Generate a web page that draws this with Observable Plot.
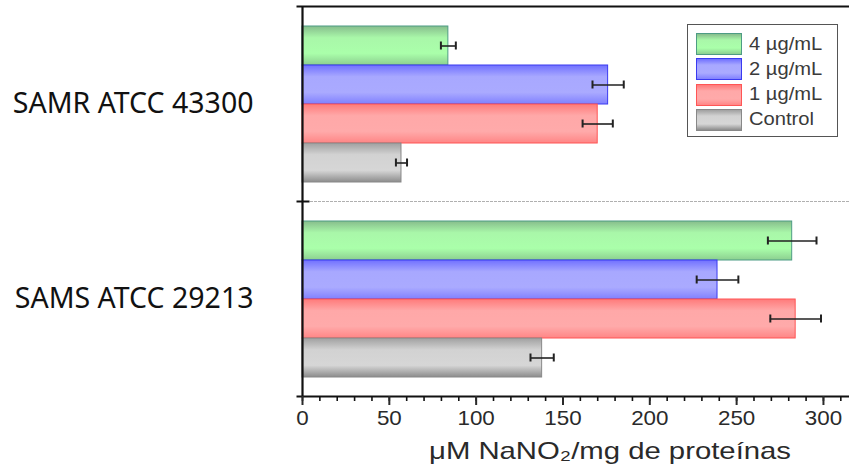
<!DOCTYPE html>
<html><head><meta charset="utf-8">
<script src="https://cdn.jsdelivr.net/npm/d3@7"></script>
<script src="https://cdn.jsdelivr.net/npm/@observablehq/plot@0.6"></script>
<style>
body{margin:0;background:#fff;}
#wrap{position:relative;width:849px;height:475px;overflow:hidden;}
.legend{position:absolute;left:687px;top:24px;width:151px;height:113px;border:1px solid #555;box-sizing:border-box;background:#fff;font-family:"Liberation Sans",Arial,sans-serif;}
.row{position:absolute;left:8px;height:22px;display:flex;align-items:center;}
.sw{width:46px;height:22px;box-sizing:border-box;margin-right:7px;}
.lt{font-size:18px;color:#3a3a3a;white-space:nowrap;display:inline-block;transform:scaleX(1.12);transform-origin:left center;}
</style></head><body><div id="wrap"></div>
<script>
const groups = ["SAMR ATCC 43300", "SAMS ATCC 29213"];
const series = ["4 µg/mL", "2 µg/mL", "1 µg/mL", "Control"];
const samrValues = [84, 176, 170, 57];
const samrErrors = [4.3, 9, 8.7, 3.2];
const samsValues = [282, 239, 284, 138];
const samsErrors = [14, 12, 14.6, 6.7];
const majorTicks = [0, 50, 100, 150, 200, 250, 300];
const minorTicks = [0, 10, 20, 30, 40, 50, 60, 70, 80, 90, 100, 110, 120, 130, 140, 150, 160, 170, 180, 190, 200, 210, 220, 230, 240, 250, 260, 270, 280, 290, 300, 310];
const xLabel = "μM NaNO₂/mg de proteínas";

const gradStops = [
  [["0","#86bd8c"],["0.3","#a9f7a9"],["0.7","#aaffaa"],["1","#8ccf90"]],
  [["0","#7070ff"],["0.3","#a8a8ff"],["0.7","#aaaaff"],["1","#8080ff"]],
  [["0","#ff7a7a"],["0.3","#ffa8a8"],["0.7","#ffaaaa"],["1","#ff8585"]],
  [["0","#a0a0a0"],["0.3","#d2d2d2"],["0.7","#d6d6d6"],["1","#8c8c8c"]]
];
const strokes = ["#4d9c84", "#3a3af0", "#ff5555", "#888888"];

const table = [];
series.forEach((s, i) => {
  table.push({group: groups[0], series: s, value: samrValues[i], err: samrErrors[i]});
  table.push({group: groups[1], series: s, value: samsValues[i], err: samsErrors[i]});
});

const W = 849, H = 475, mL = 302, mR = 0, mT = 6, mB = 79;
const innerW = W - mL - mR;

const svg = Plot.plot({
  width: W, height: H,
  marginLeft: mL, marginRight: mR, marginTop: mT, marginBottom: mB,
  style: {background: "#fff", overflow: "visible"},
  x: {domain: [0, 315]},
  y: {domain: series, paddingInner: 0, paddingOuter: 0.47, axis: null},
  fy: {domain: groups, padding: 0, label: null},
  marks: [
    Plot.frame({anchor: "top", fy: groups[1], stroke: "#b0b0b0", strokeWidth: 1, strokeDasharray: "2,2"}),
    ...series.map((s, i) => Plot.barX(table.filter(d => d.series === s), {
      x: "value", y: "series", fy: "group",
      fill: `url(#grad${i})`, stroke: strokes[i], strokeWidth: 1
    })),
    Plot.ruleY(table, {y: "series", fy: "group", x1: d => d.value - d.err, x2: d => d.value + d.err, stroke: "#222", strokeWidth: 1.6}),
    Plot.tickX(table, {x: d => d.value - d.err, y: "series", fy: "group", insetTop: 15.5, insetBottom: 15.5, stroke: "#222", strokeWidth: 2}),
    Plot.tickX(table, {x: d => d.value + d.err, y: "series", fy: "group", insetTop: 15.5, insetBottom: 15.5, stroke: "#222", strokeWidth: 2}),
    Plot.ruleX([0], {stroke: "#111", strokeWidth: 2.2}),
    Plot.frame({anchor: "top", fy: groups[0], stroke: "#111", strokeWidth: 2, insetLeft: -5}),
    Plot.frame({anchor: "top", fy: groups[1], stroke: "#111", strokeWidth: 2, insetLeft: -5, insetRight: innerW - 6}),
    Plot.frame({anchor: "bottom", fy: groups[1], stroke: "#111", strokeWidth: 2, insetLeft: -5}),
    Plot.axisX({ticks: minorTicks, tickSize: 5, tickFormat: () => "", label: null, strokeWidth: 1.6, color: "#111"}),
    Plot.axisX({ticks: majorTicks, tickSize: 9, tickPadding: 5, label: null, strokeWidth: 2, fontSize: 20, fontFamily: "Liberation Sans", color: "#2a2a2a"}),
    Plot.text([xLabel], {text: d => d, fy: [groups[1]], frameAnchor: "bottom", dy: 62, dx: 34, fontSize: 24, fontFamily: "Liberation Sans", fill: "#2a2a2a"}),
    Plot.axisFy({anchor: "left", tickSize: 0, tickPadding: 49, fontSize: 28.5, fontFamily: "Noto Sans", label: null, color: "#111"})
  ]
});

const defs = d3.select(svg).insert("defs", ":first-child");
gradStops.forEach((stops, i) => {
  const g = defs.append("linearGradient").attr("id", `grad${i}`).attr("x1", 0).attr("y1", 0).attr("x2", 0).attr("y2", 1);
  stops.forEach(([o, c]) => g.append("stop").attr("offset", o).attr("stop-color", c));
});
d3.select(svg).selectAll('g[aria-label="x-axis tick label"] text').each(function () {
  const t = this.getAttribute("transform") || "";
  this.setAttribute("transform", t + " scale(1.12,1)");
});
d3.select(svg).selectAll("text").each(function () {
  if (this.textContent === xLabel) {
    this.setAttribute("textLength", 362);
    this.setAttribute("lengthAdjust", "spacingAndGlyphs");
  }
});

const wrap = document.getElementById("wrap");
wrap.appendChild(svg);

const legend = document.createElement("div");
legend.className = "legend";
series.forEach((s, i) => {
  const row = document.createElement("div");
  row.className = "row";
  row.style.top = (8 + i * 25.3) + "px";
  const sw = document.createElement("div");
  sw.className = "sw";
  const st = gradStops[i];
  sw.style.background = `linear-gradient(to bottom, ${st.map(([o, c]) => c + " " + (o * 100) + "%").join(", ")})`;
  sw.style.border = `1px solid ${strokes[i]}`;
  const lt = document.createElement("span");
  lt.className = "lt";
  lt.textContent = s;
  row.appendChild(sw); row.appendChild(lt);
  legend.appendChild(row);
});
wrap.appendChild(legend);
</script>
</body></html>
